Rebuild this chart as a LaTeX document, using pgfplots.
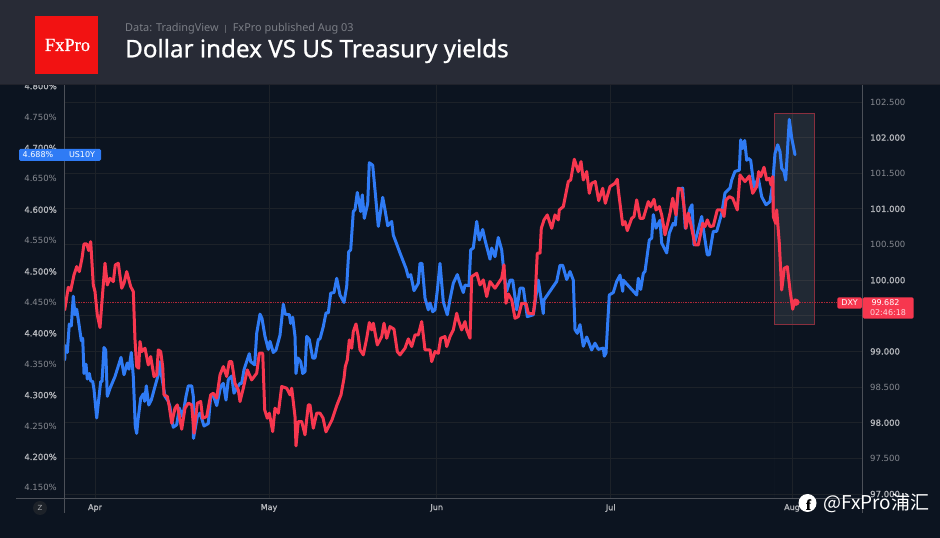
\documentclass[border=0pt]{standalone}
\usepackage{pgfplots}
\pgfplotsset{compat=1.18}
\usepackage{fontspec}
\setmainfont{DejaVu Sans}
\newfontfamily\tickbold[FakeBold=1.2]{DejaVu Sans}
\newfontfamily\titlefont[FakeBold=0.9]{Noto Sans}
\newfontfamily\subfont{Noto Sans}
\newfontfamily\logofont[FakeBold=0.6]{Liberation Serif}
\newfontfamily\cjk{Noto Sans CJK SC}
\definecolor{bgdark}{HTML}{0C1420}
\definecolor{headbg}{HTML}{282B36}
\definecolor{gridc}{HTML}{1D2229}
\definecolor{axisc}{HTML}{4C5058}
\definecolor{labelc}{HTML}{868990}
\definecolor{boldc}{HTML}{B4B6BB}
\definecolor{usblue}{HTML}{2F7BF5}
\definecolor{dxyred}{HTML}{F7374F}
\definecolor{boxline}{HTML}{8A2F3E}
\definecolor{logored}{HTML}{F21212}
\pgfplotsset{
  chartbase/.style={
    anchor=south west, at={(64pt,40pt)},
    scale only axis, width=798pt, height=413pt,
    xmin=64, xmax=862,
    tick style={draw=none},
    axis line style={draw=none},
  },
  dxyrange/.style={ymin=96.944, ymax=102.738},
}
\newcommand{\bl}[1]{{\tickbold\color{boldc}#1}}
\begin{document}
\begin{tikzpicture}
\useasboundingbox (0pt,0pt) rectangle (940pt,538pt);
\fill[bgdark] (0pt,0pt) rectangle (940pt,538pt);

% grid, tick labels and highlighted window on the DXY scale
\begin{axis}[chartbase, dxyrange,
    yticklabel pos=right,
    xticklabel pos=bottom,
    grid=both, grid style={gridc, line width=0.8pt},
    xtick={95,269,436.7,610.7,792},
    xticklabels={\bl{Apr},\bl{May},\bl{Jun},\bl{Jul},\bl{Aug}},
    xticklabel style={font=\fontsize{8}{9}\selectfont, inner sep=0pt, yshift=-6pt},
    ytick={97,97.5,98,98.5,99,99.5,100,100.5,101,101.5,102,102.5},
    yticklabels={\bl{97.000},97.500,\bl{98.000},98.500,\bl{99.000},99.500,\bl{100.000},100.500,\bl{101.000},101.500,\bl{102.000},102.500},
    yticklabel style={font=\fontsize{8.5}{10}\selectfont, text=labelc, inner sep=0pt, xshift=8pt},
]
\addplot[draw=none, fill=white, fill opacity=0.09] coordinates {(774,99.372) (814,99.372) (814,102.342) (774,102.342)} \closedcycle;
\addplot[boxline, line width=0.9pt] coordinates {(774,99.372) (814,99.372) (814,102.342) (774,102.342) (774,99.372)};
\addplot[dxyred!70!black, line width=0.7pt, densely dotted] coordinates {(64,99.682) (838,99.682)};
\end{axis}

% US 10Y yield, left scale
\begin{axis}[chartbase,
    ymin=4.1335, ymax=4.8018,
    yticklabel pos=left,
    xtick=\empty,
    ytick={4.15,4.2,4.25,4.3,4.35,4.4,4.45,4.5,4.55,4.6,4.65,4.7,4.75,4.8},
    yticklabels={4.150\%,\bl{4.200\%},4.250\%,\bl{4.300\%},4.350\%,\bl{4.400\%},4.450\%,\bl{4.500\%},4.550\%,\bl{4.600\%},4.650\%,\bl{4.700\%},4.750\%,\bl{4.800\%}},
    yticklabel style={font=\fontsize{8.5}{10}\selectfont, text=labelc, inner sep=0pt, xshift=-7pt},
]
\addplot[usblue, line width=3pt, line join=round, line cap=round] coordinates {
(64.7,4.357) (65.3,4.380) (67.3,4.369) (69.3,4.415) (71.3,4.412) (73.3,4.460) (75,4.430) (76.7,4.439)
(79.3,4.411) (81.3,4.388) (82.7,4.392) (84,4.335) (86,4.350) (87.3,4.326) (89.3,4.335) (90.7,4.323)
(92.7,4.322) (94,4.309) (96.7,4.263) (100.7,4.322) (102,4.322) (104,4.377) (105.7,4.373) (107.3,4.298)
(110,4.311) (115,4.330) (121,4.361) (124,4.333) (127.3,4.352) (129,4.342) (131.3,4.369) (133.3,4.330)
(135.3,4.249) (136.7,4.238) (138,4.260) (140.7,4.295) (143.3,4.302) (144.7,4.290) (146.3,4.315) (148.7,4.284)
(151.3,4.292) (155,4.314) (158.3,4.333) (160,4.354) (161.7,4.330) (165,4.298) (168.3,4.290) (170,4.281)
(171.7,4.260) (173.3,4.248) (176.7,4.252) (179.3,4.279) (182.7,4.265) (186,4.298) (188.3,4.315) (191.7,4.315)
(193.3,4.298) (193.5,4.230) (197.3,4.265) (200,4.271) (204,4.250) (208.3,4.254) (210.7,4.298) (213.3,4.300)
(216.7,4.283) (220.7,4.314) (223.3,4.319) (226,4.292) (228.3,4.325) (231.7,4.331) (234,4.303) (236.7,4.311)
(240,4.319) (241.7,4.319) (244,4.341) (249.3,4.367) (250.7,4.354) (254.7,4.349) (256.7,4.400) (260,4.431)
(262,4.424) (265,4.395) (268.3,4.374) (270,4.387) (273.3,4.369) (276,4.373) (280,4.397) (283.3,4.447)
(285.3,4.431) (289.3,4.430) (290.7,4.416) (292.7,4.426) (295,4.395) (296,4.335) (298,4.360) (300.7,4.354)
(302.7,4.335) (305,4.338) (306.7,4.395) (309.3,4.390) (312.7,4.360) (315,4.360) (318.3,4.390) (320,4.391)
(323.3,4.411) (326,4.433) (328.3,4.433) (330.7,4.465) (334,4.466) (336.7,4.489) (340,4.462) (344,4.450)
(346.7,4.476) (348.7,4.532) (350.7,4.535) (353.3,4.597) (355,4.600) (357.3,4.628) (360.7,4.597) (362.3,4.624)
(364.3,4.586) (367.7,4.610) (369.3,4.676) (372.7,4.672) (375,4.632) (378.3,4.573) (382.7,4.620) (385,4.600)
(387.7,4.574) (391.7,4.581) (393.3,4.559) (400,4.530) (406,4.505) (408.3,4.491) (410.7,4.495) (414,4.469)
(418.3,4.481) (420,4.513) (422,4.513) (425,4.457) (428.3,4.438) (430,4.449) (432.7,4.435) (435,4.438)
(437.3,4.469) (440,4.513) (443.3,4.451) (447.3,4.430) (450,4.455) (453.3,4.481) (457.3,4.495) (460,4.481)
(463.3,4.466) (465,4.478) (469,4.477) (470.7,4.535) (473.3,4.538) (476.7,4.581) (479.3,4.551) (482.7,4.568)
(485,4.551) (490,4.520) (491.7,4.538) (495,4.524) (498.3,4.555) (501.7,4.535) (504,4.497) (506.7,4.468)
(510,4.486) (512.7,4.486) (516.7,4.438) (520,4.473) (523.3,4.473) (527.3,4.427) (533.3,4.430) (538.3,4.486)
(543.3,4.432) (544,4.454) (556.7,4.484) (560,4.510) (562.7,4.510) (566.7,4.487) (570,4.500) (573.3,4.486)
(575,4.406) (577.3,4.400) (580,4.414) (583.3,4.379) (586.7,4.394) (591.7,4.373) (595,4.384) (598.3,4.374)
(603.3,4.376) (604.3,4.363) (606,4.368) (609.3,4.462) (613.3,4.466) (616.7,4.484) (620,4.494) (622.7,4.468)
(623.3,4.486) (636.7,4.462) (638.3,4.489) (640.7,4.471) (643.3,4.497) (645,4.500) (649.3,4.551) (651.7,4.554)
(653.3,4.592) (656,4.570) (660,4.583) (661.7,4.546) (666.7,4.530) (669.3,4.562) (673.3,4.578) (675.3,4.575)
(678.3,4.632) (682.7,4.635) (685.3,4.570) (690,4.602) (692,4.608) (694,4.543) (697.3,4.562) (701.7,4.589)
(704,4.562) (707.3,4.527) (709.3,4.527) (713.3,4.565) (716.7,4.565) (721.7,4.594) (725,4.627) (730,4.635)
(731.7,4.648) (735,4.662) (739.3,4.664) (740.7,4.713) (742.7,4.699) (744.7,4.712) (746.7,4.680) (748.3,4.683)
(750.7,4.680) (754,4.637) (758.3,4.651) (761.7,4.621) (766,4.608) (770,4.613) (772.7,4.643) (775,4.691)
(777.7,4.705) (780,4.694) (781.7,4.667) (784,4.662) (785.7,4.648) (789.3,4.746) (791.7,4.716) (795,4.689)
};
\end{axis}

% DXY on top
\begin{axis}[chartbase, dxyrange, hide axis]
\addplot[dxyred, line width=3pt, line join=round, line cap=round] coordinates {
(64.7,99.583) (68.3,99.901) (70.7,99.854) (74,100.074) (76.7,100.190) (79.3,100.120) (82,100.307) (84,100.508)
(86.7,100.508) (88.7,100.415) (90.7,100.541) (93.3,99.933) (95,99.840) (97.3,99.513) (100,99.335) (101.7,99.653)
(105,100.237) (107.3,99.933) (110,100.027) (113.3,99.980) (115.3,100.214) (118.3,100.237) (121.7,99.887) (124,99.957)
(126.7,100.120) (130.7,99.910) (133.3,99.840) (135,99.162) (136.7,98.788) (138.7,98.765) (140,99.139) (141.7,98.998)
(145,99.045) (148.3,98.811) (150.7,98.928) (154,98.648) (156.7,98.671) (158.3,99.022) (160.7,98.998) (162.7,98.788)
(164,98.391) (167.3,98.367) (169.3,98.227) (171.7,97.993) (175,98.204) (177.3,98.250) (181.7,97.909) (185,98.204)
(188.3,98.274) (191.7,98.250) (194,97.853) (197.3,98.274) (200.7,98.297) (202.7,98.063) (206.7,98.087) (210.7,98.391)
(213.3,98.414) (216.7,98.344) (220,98.671) (223.3,98.788) (226.7,98.648) (229.3,98.858) (231.7,98.858) (235,98.554)
(238.3,98.461) (240,98.297) (243.3,98.484) (247.3,98.741) (251.7,98.601) (256.7,98.695) (259.3,98.975) (262.7,98.975)
(264.7,98.180) (267.3,98.063) (269.3,98.134) (272.7,97.876) (275,98.204) (278.3,98.134) (281.7,98.508) (286.7,98.484)
(290,98.391) (291.7,98.484) (295,98.087) (296,97.675) (298.3,98.017) (301.7,98.017) (305,97.830) (308.3,98.250)
(310,98.250) (313.3,97.923) (316.7,98.134) (320,98.134) (323,98.068) (326,97.872) (332,98.040) (337,98.250)
(341,98.391) (344,98.624) (345.3,98.788) (347.3,98.881) (349.3,99.162) (351.7,99.045) (353.3,99.279) (356,99.386)
(358.3,99.209) (360,99.022) (363.3,98.952) (366.7,99.185) (369.3,99.405) (371.7,99.302) (373.3,99.396) (377.3,99.092)
(381.7,99.209) (384,99.396) (386.7,99.185) (390,99.349) (394,99.312) (397.3,98.998) (400,98.952) (405,99.045)
(408.3,99.176) (411.7,99.069) (415,99.232) (418.3,99.232) (421.7,99.419) (425,99.022) (430,99.022) (431.7,98.858)
(435,98.998) (438.3,98.975) (440.7,99.185) (445,99.209) (446.7,99.069) (450,99.209) (453.3,99.302) (456.7,99.536)
(458.3,99.442) (461.7,99.302) (465,99.419) (466.7,99.302) (470,99.185) (471.7,100.050) (476.7,100.097) (480,99.933)
(483.3,100.004) (486.7,99.770) (490,99.980) (495,99.887) (501.7,100.027) (504,100.214) (506,99.676) (508.3,99.807)
(511.7,99.723) (515,99.466) (518.3,99.489) (521.7,99.676) (526,99.676) (528.3,99.536) (533.3,99.527) (535,99.723)
(537.3,100.378) (540,100.378) (541.3,100.728) (544,100.845) (547.3,100.915) (551.7,100.728) (555,100.915) (558.3,100.845)
(559.3,100.985) (563.3,101.032) (568.3,101.383) (570.7,101.406) (574.3,101.696) (578.3,101.523) (581,101.663) (583.3,101.406)
(586.7,101.523) (589.3,101.219) (591.7,101.359) (595.3,101.383) (598.7,101.116) (602.7,101.289) (605.3,101.079) (610,101.313)
(615,101.359) (617.3,101.415) (618.3,101.266) (622.7,100.775) (625,100.822) (627.3,100.695) (631.7,100.868) (634,100.892)
(636.7,101.126) (640,100.868) (643.3,100.868) (648.3,101.102) (650.7,101.032) (654,101.135) (656,100.985) (659.3,101.032)
(661.7,100.915) (665,100.635) (670,100.939) (672.7,101.149) (676,100.915) (678.3,101.289) (681.7,101.275) (684,101.032)
(686,100.728) (688.3,100.939) (691,100.775) (695,100.494) (698.3,100.494) (702.7,100.798) (705,100.752) (707.3,100.845)
(710,100.752) (713.3,100.761) (717.3,100.985) (721.7,100.985) (724,100.892) (726,101.126) (729.3,101.172) (732.7,101.149)
(737.3,100.985) (740,101.476) (745,101.383) (749.3,101.462) (752.7,101.219) (756.7,101.313) (758.7,101.523) (760.7,101.453)
(764,101.584) (766.7,101.406) (769.3,101.429) (771,101.336) (772.7,101.453) (773.3,100.892) (775.7,100.798) (776.7,100.985)
(779.3,100.518) (781.7,99.863) (784.3,100.167) (787.3,100.190) (790,99.863) (792.7,99.592) (795,99.723) (798.3,99.690)
};
\addplot[only marks, mark=*, mark size=3.3pt, dxyred, mark options={draw=dxyred, fill=dxyred}] coordinates {(796,99.690)};
\end{axis}

\begin{scope}[x=1pt,y=1pt]
% axis frame lines
\draw[axisc, line width=0.9pt] (16,40) -- (862,40);
\draw[axisc, line width=0.9pt] (64,25) -- (64,453);
\draw[axisc, line width=0.9pt] (862,25) -- (862,453);

% header band
\fill[headbg] (0,454) rectangle (940,538);
\fill[headbg!80!black] (0,453.4) rectangle (940,454);
\fill[logored] (35,464) rectangle (98,522);
\node[text=white, inner sep=0pt, font=\logofont\fontsize{18.5}{20}\selectfont] at (67.5,493) {FxPro};
\node[anchor=west, inner sep=0pt, text=labelc!110, font=\subfont\fontsize{10.9}{13}\selectfont] at (125,509) {Data: TradingView\;\,{\color{labelc}\fontsize{8}{9}\selectfont|}\;\,FxPro published Aug 03};
\node[anchor=west, inner sep=0pt, text=white, font=\titlefont\fontsize{24.2}{27}\selectfont] at (125,487) {Dollar index VS US Treasury yields};

% price tags
\fill[usblue, rounded corners=1.5pt] (19,377) rectangle (101,389);
\node[text=white, inner sep=0pt, font=\fontsize{8}{9}\selectfont] at (38,383) {4.688\%};
\node[text=white, inner sep=0pt, font=\fontsize{8}{9}\selectfont] at (82,383) {US10Y};
\fill[dxyred, rounded corners=1.5pt] (837.3,229.3) rectangle (862,240.7);
\fill[dxyred, rounded corners=1.5pt] (862.7,219.3) rectangle (913.7,240.7);
\node[text=white, inner sep=0pt, font=\fontsize{8}{9}\selectfont] at (849.6,235) {DXY};
\node[text=white, inner sep=0pt, font=\fontsize{8}{9}\selectfont] at (885.5,235) {99.682};
\node[text=white!80!dxyred, inner sep=0pt, font=\fontsize{8}{9}\selectfont] at (888,225) {02:46:18};

% auto scale button
\fill[gridc] (40,30) circle (7);
\node[text=labelc!70, inner sep=0pt, font=\fontsize{7}{8}\selectfont] at (40,30) {Z};

% watermark
\fill[white] (807.5,35) circle (9);
\node[text=black, inner sep=0pt, font=\logofont\bfseries\fontsize{15}{16}\selectfont] at (808.5,33.5) {f};
\node[anchor=west, inner sep=0pt, text=white, font=\cjk\fontsize{19}{21}\selectfont] at (823,35) {@FxPro浦汇};
\end{scope}
\end{tikzpicture}
\end{document}
